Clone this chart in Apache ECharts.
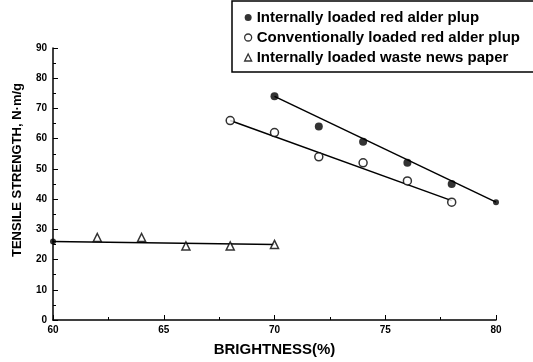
<!DOCTYPE html>
<html>
<head>
<meta charset="UTF-8">
<script src="https://cdn.jsdelivr.net/npm/echarts@6/dist/echarts.min.js"></script>
<style>
  html, body, #main { width: 100%; height: 100%; margin: 0; padding: 0; overflow: hidden; background: #fff; }
</style>
</head>
<body>
<div id="main"></div>
<script>
// data
var internalRed = [[70, 74], [72, 64], [74, 59], [76, 52], [78, 45]];
var convRed = [[68, 66], [70, 62], [72, 54], [74, 52], [76, 46], [78, 39]];
var newsPaper = [[62, 27.3], [64, 27.3], [66, 24.5], [68, 24.5], [70, 25]];
// fitted lines (end points)
var fitInternal = [[70, 74], [80, 39]];
var fitConv = [[68, 66], [78, 39.5]];
var fitNews = [[60, 26], [70, 25]];

var names = ['Internally loaded red alder plup', 'Conventionally loaded red alder plup', 'Internally loaded waste news paper'];

var chart = echarts.init(document.getElementById('main'));
var font = 'Liberation Sans, Arial, sans-serif';

var fitLine = function (d) {
  return {
    type: 'line', data: d, silent: true, symbol: 'none',
    lineStyle: { color: '#000', width: 1.5 },
    z: 1
  };
};

chart.setOption({
  animation: false,
  grid: { left: 53, right: 37, top: 48, bottom: 40 },
  legend: {
    orient: 'vertical', left: 232, top: 1,
    data: [
      { name: names[0], icon: 'circle', itemStyle: { color: '#000' } },
      { name: names[1], icon: 'circle', itemStyle: { color: '#fff', borderColor: '#000', borderWidth: 1.3 } },
      { name: names[2], icon: 'triangle', itemStyle: { color: '#fff', borderColor: '#000', borderWidth: 1.3 } }
    ],
    itemWidth: 7, itemHeight: 7, itemGap: 5,
    borderColor: '#000', borderWidth: 1.5, padding: [9, 40, 7, 12],
    textStyle: { fontFamily: font, fontSize: 15, color: '#000', fontWeight: 'bold' }
  },
  xAxis: {
    type: 'value', min: 60, max: 80, interval: 5,
    name: 'BRIGHTNESS(%)', nameLocation: 'middle', nameGap: 22,
    nameTextStyle: { fontFamily: font, fontSize: 15, fontWeight: 'bold', color: '#000' },
    axisLine: { lineStyle: { color: '#000', width: 1.5 } },
    axisTick: { inside: true, length: 5, lineStyle: { color: '#000' } },
    minorTick: { show: true, splitNumber: 2, length: 3, lineStyle: { color: '#000' } },
    axisLabel: { fontFamily: font, fontSize: 10, fontWeight: 'bold', color: '#000', margin: 5 },
    splitLine: { show: false }
  },
  yAxis: {
    type: 'value', min: 0, max: 90, interval: 10,
    name: 'TENSILE STRENGTH, N·m/g', nameLocation: 'middle', nameGap: 29,
    nameTextStyle: { fontFamily: font, fontSize: 13, fontWeight: 'bold', color: '#000', padding: [0, 0, 0, 28] },
    axisLine: { show: true, lineStyle: { color: '#000', width: 1.5 } },
    axisTick: { inside: true, length: 5, lineStyle: { color: '#000' } },
    minorTick: { show: true, splitNumber: 2, length: 3, lineStyle: { color: '#000' } },
    axisLabel: { fontFamily: font, fontSize: 10, fontWeight: 'bold', color: '#000', margin: 6 },
    splitLine: { show: false }
  },
  series: [
    fitLine(fitInternal),
    fitLine(fitConv),
    fitLine(fitNews),
    {
      name: names[0], type: 'scatter', data: internalRed,
      symbol: 'circle', symbolSize: 8,
      itemStyle: { color: '#000' }, z: 3
    },
    {
      name: names[1], type: 'scatter', data: convRed,
      symbol: 'circle', symbolSize: 8,
      itemStyle: { color: '#fff', borderColor: '#000', borderWidth: 1.5 }, z: 3
    },
    {
      name: names[2], type: 'scatter', data: newsPaper,
      symbol: 'triangle', symbolSize: 8,
      itemStyle: { color: '#fff', borderColor: '#000', borderWidth: 1.5 }, z: 3
    },
    {
      type: 'scatter', silent: true, symbol: 'circle', symbolSize: 6,
      data: [fitInternal[1], fitNews[0]], itemStyle: { color: '#000' }, z: 3
    }
  ]
});
</script>
</body>
</html>
